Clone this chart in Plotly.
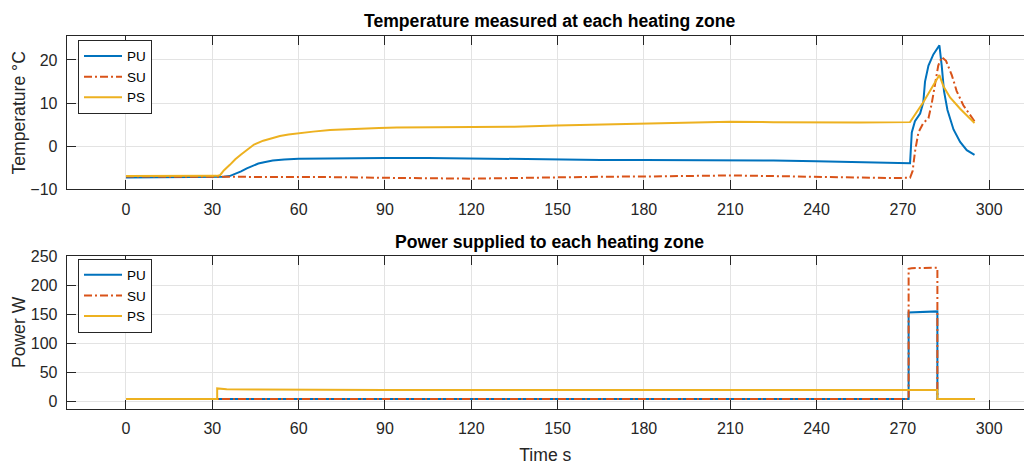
import plotly.graph_objects as go

# ---------------- data ----------------
names = ["PU", "SU", "PS"]
colors = ["#0072BD", "#D95319", "#EDB120"]
dashes = ["solid", "8px,3px,2px,3px", "solid"]

# Temperature (deg C)
t_pu = [0, 10, 20, 30, 34, 36, 38, 40, 42, 44, 46, 48, 51, 55, 60, 70, 80, 90, 105, 120,
        135, 150, 165, 180, 195, 210, 225, 240, 255, 265, 272.5, 273.1, 274.2, 276.0,
        277.1, 277.7, 278.9, 280.6, 282.7, 283.5, 284.3, 285.5, 287.6, 289.9, 292.2, 294.9]
temp_pu = [-7.2, -7.2, -7.15, -7.1, -7.05, -6.9, -6.4, -5.8, -5.1, -4.5, -4.0, -3.7, -3.3,
           -3.05, -2.9, -2.8, -2.7, -2.7, -2.7, -2.85, -2.9, -3.0, -3.15, -3.2, -3.2, -3.2,
           -3.3, -3.45, -3.6, -3.8, -3.9, 3.2, 5.8, 7.6, 10.2, 15.0, 18.7, 21.3, 23.4, 18.7,
           12.8, 8.4, 3.9, 1.0, -0.9, -2.0]

t_su = [0, 15, 30, 45, 60, 75, 90, 105, 120, 135, 150, 165, 180, 195, 210, 225, 240, 255,
        265, 272.5, 273.4, 274.2, 275.4, 277.1, 278.9, 280.0, 281.2, 282.3, 283.5, 285.0,
        287.0, 288.7, 291.0, 294.9]
temp_su = [-7.0, -7.0, -7.0, -7.0, -7.05, -7.15, -7.3, -7.4, -7.5, -7.35, -7.15, -7.05,
           -7.0, -6.85, -6.75, -6.9, -7.1, -7.25, -7.35, -7.3, -5.7, -1.3, 3.2, 5.4, 6.5,
           9.8, 14.3, 18.7, 20.7, 19.8, 16.5, 12.8, 9.5, 5.8]

t_ps = [0, 15, 31.5, 32.7, 34, 36.1, 38, 40, 42, 44.5, 47.7, 50.5, 53.5, 56.5, 59.3, 65,
        70.9, 76.5, 82.5, 88, 94.1, 105, 117.2, 135, 149.7, 165, 179.8, 195, 210, 225, 240,
        255, 272.5, 277.1, 282.7, 284.1, 286.4, 289.9, 294.9]
temp_ps = [-6.9, -6.9, -6.85, -6.7, -5.6, -4.3, -3.0, -1.9, -0.8, 0.4, 1.3, 1.9, 2.4, 2.75,
           3.0, 3.4, 3.75, 3.95, 4.1, 4.25, 4.35, 4.4, 4.4, 4.55, 4.8, 5.0, 5.25, 5.45,
           5.7, 5.6, 5.5, 5.5, 5.6, 10.2, 16.5, 13.9, 11.3, 8.7, 5.4]

# Power (W)
tp_pu = [0, 272, 272, 282, 282, 295]
pow_pu = [5, 5, 153, 155, 5, 5]
tp_su = [0, 272, 272, 273, 282, 282, 295]
pow_su = [5, 5, 228, 229, 230, 5, 5]
tp_ps = [0, 31.7, 31.7, 35, 45, 60, 90, 120, 150, 180, 210, 240, 270, 282, 282, 295]
pow_ps = [5, 5, 23, 21.5, 21, 20.5, 20.3, 20.3, 20.2, 20.2, 20.3, 20.2, 20.3, 20.3, 5, 5]

x_ticks = [0, 30, 60, 90, 120, 150, 180, 210, 240, 270, 300]
temp_ticks = [-10, 0, 10, 20]
pow_ticks = [0, 50, 100, 150, 200, 250]

# ---------------- figure ----------------
W, H = 1024, 468
FONT = "Liberation Sans, Arial, Helvetica, sans-serif"
AX = "#262626"
GRID = "#e3e3e3"

fig = go.Figure()
temp = [(t_pu, temp_pu), (t_su, temp_su), (t_ps, temp_ps)]
powr = [(tp_pu, pow_pu), (tp_su, pow_su), (tp_ps, pow_ps)]
for i, (x, y) in enumerate(temp):
    fig.add_trace(go.Scatter(x=x, y=y, mode="lines", name=names[i],
                             line=dict(color=colors[i], width=2, dash=dashes[i]),
                             xaxis="x", yaxis="y", legend="legend"))
for i, (x, y) in enumerate(powr):
    fig.add_trace(go.Scatter(x=x, y=y, mode="lines", name=names[i],
                             line=dict(color=colors[i], width=2, dash=dashes[i]),
                             xaxis="x2", yaxis="y2", legend="legend2"))

x0, x1 = 66.7 / W, 1.0
top_dom = [1 - 188.3 / H, 1 - 29.3 / H]
bot_dom = [1 - 416.0 / H, 1 - 257.3 / H]
xrange = [-20.6, 312.1]

common_x = dict(range=xrange, tickvals=x_ticks, showgrid=True, gridcolor=GRID, gridwidth=1,
                showline=True, linecolor=AX, linewidth=1, mirror="ticks", ticks="inside",
                ticklen=9, tickcolor=AX, tickfont=dict(size=16, color=AX, family=FONT),
                zeroline=False, ticklabelstandoff=5, domain=[x0, x1])
common_y = dict(showgrid=True, gridcolor=GRID, gridwidth=1, showline=True, linecolor=AX,
                linewidth=1, mirror=False, ticks="inside", ticklen=9, tickcolor=AX,
                tickfont=dict(size=16, color=AX, family=FONT), zeroline=False,
                ticklabelstandoff=5)

legend_common = dict(xanchor="left", yanchor="top", bgcolor="white", bordercolor=AX,
                     borderwidth=1, font=dict(size=13.5, color="black", family=FONT),
                     tracegroupgap=0, itemwidth=38)

fig.update_layout(
    width=W, height=H, margin=dict(l=0, r=0, t=0, b=0),
    paper_bgcolor="white", plot_bgcolor="white",
    font=dict(family=FONT, color=AX),
    xaxis=dict(common_x, anchor="y"),
    yaxis=dict(common_y, domain=top_dom, range=[-10, 25.5], tickvals=temp_ticks,
               title=dict(text="Temperature °C", font=dict(size=17.6, color=AX), standoff=0)),
    xaxis2=dict(common_x, anchor="y2",
                title=dict(text="Time s", font=dict(size=17.6, color=AX), standoff=12)),
    yaxis2=dict(common_y, domain=bot_dom, range=[-12, 250], tickvals=pow_ticks,
                title=dict(text="Power W", font=dict(size=17.6, color=AX), standoff=0)),
    legend=dict(legend_common, x=78 / W, y=1 - 33 / H),
    legend2=dict(legend_common, x=78 / W, y=1 - 260 / H),
    showlegend=True,
    annotations=[
        dict(text="<b>Temperature measured at each heating zone</b>", x=549 / W,
             y=1 - 14 / H, xref="paper", yref="paper", xanchor="center", yanchor="middle",
             showarrow=False, font=dict(size=17.6, color="black", family=FONT)),
        dict(text="<b>Power supplied to each heating zone</b>", x=549 / W,
             y=1 - 243 / H, xref="paper", yref="paper", xanchor="center", yanchor="middle",
             showarrow=False, font=dict(size=17.6, color="black", family=FONT)),
    ],
)

fig.write_html("out.html")
